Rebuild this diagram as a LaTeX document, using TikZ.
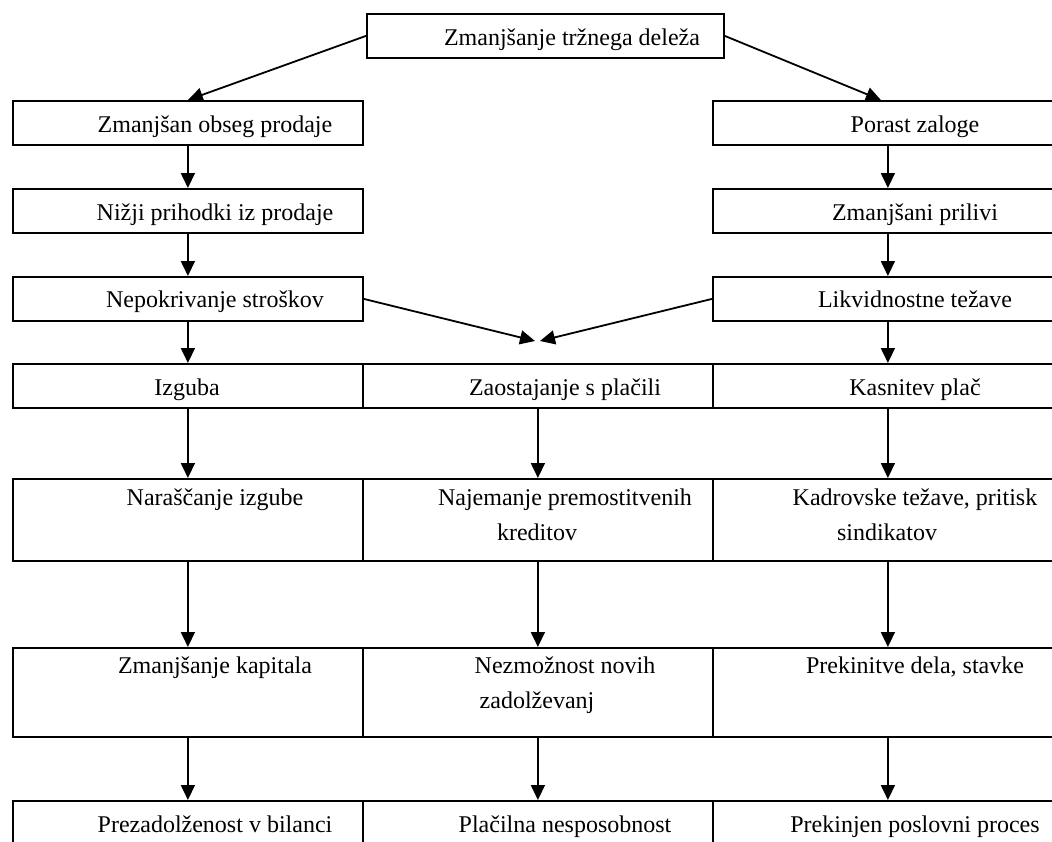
\documentclass[tikz,border=0pt]{standalone}
\usepackage{fontspec}
\setmainfont{Liberation Serif}
\usetikzlibrary{arrows.meta}
\begin{document}
\begin{tikzpicture}[x=1pt,y=-1pt,
  box/.style={draw, line width=1.8pt, rectangle, inner sep=0pt, anchor=north west, minimum width=350pt},
  boxs/.style={box, minimum height=44pt},
  boxt/.style={box},
  txt/.style={anchor=base, inner sep=0pt, align=center, font=\fontsize{24}{35}\selectfont},
  arr/.style={line width=1.8pt, -{Triangle[length=15pt,width=14pt]}}]
\useasboundingbox (0,0) rectangle (1052,841);
\clip (0,0) rectangle (1052,841);
% boxes
\node[box, minimum width=357pt, minimum height=44pt] (top) at (366,13) {};
\node[boxs] (l1) at (12,100) {};
\node[boxs] (r1) at (712,100) {};
\node[boxs] (l2) at (12,188) {};
\node[boxs] (r2) at (712,188) {};
\node[boxs] (l3) at (12,276) {};
\node[boxs] (r3) at (712,276) {};
\node[boxs] (l4) at (12,363) {};
\node[boxs] (m4) at (362,363) {};
\node[boxs] (r4) at (712,363) {};
\node[boxt, minimum height=82pt] (l5) at (12,478) {};
\node[boxt, minimum height=82pt] (m5) at (362,478) {};
\node[boxt, minimum height=82pt] (r5) at (712,478) {};
\node[boxt, minimum height=89pt] (l6) at (12,647) {};
\node[boxt, minimum height=89pt] (m6) at (362,647) {};
\node[boxt, minimum height=89pt] (r6) at (712,647) {};
\node[boxt, minimum height=90pt] (l7) at (12,800) {};
\node[boxt, minimum height=90pt] (m7) at (362,800) {};
\node[boxt, minimum height=90pt] (r7) at (712,800) {};
% texts (multi-line nodes: base anchor = last line)
\node[txt] (ttop) at (572,45) {Zmanjšanje tržnega deleža};
\node[txt] (tl1) at (215,132) {Zmanjšan obseg prodaje};
\node[txt] (tr1) at (915,132) {Porast zaloge};
\node[txt] (tl2) at (215,220) {Nižji prihodki iz prodaje};
\node[txt] (tr2) at (915,220) {Zmanjšani prilivi};
\node[txt] (tl3) at (215,307) {Nepokrivanje stroškov};
\node[txt] (tr3) at (915,307) {Likvidnostne težave};
\node[txt] (tl4) at (187,395) {Izguba};
\node[txt] (tm4) at (565,395) {Zaostajanje s plačili};
\node[txt] (tr4) at (915,395) {Kasnitev plač};
\node[txt] (tl5) at (215,505) {Naraščanje izgube};
\node[txt] (tm5) at (537,540) {\hspace*{56pt}Najemanje premostitvenih\\kreditov};
\node[txt] (tr5) at (887,540) {\hspace*{56pt}Kadrovske težave, pritisk\\sindikatov};
\node[txt] (tl6) at (215,673) {Zmanjšanje kapitala};
\node[txt] (tm6) at (537,708) {\hspace*{56pt}Nezmožnost novih\\zadolževanj};
\node[txt] (tr6) at (915,673) {Prekinitve dela, stavke};
\node[txt] (tl7) at (215,832) {Prezadolženost v bilanci};
\node[txt] (tm7) at (565,832) {Plačilna nesposobnost};
\node[txt] (tr7) at (915,832) {Prekinjen poslovni proces};
% connectors
\coordinate (meetL) at (535,341);
\coordinate (meetR) at (540,341);
\draw[arr] (top.west) -- (l1.north);
\draw[arr] (top.east) -- ([xshift=-7pt]r1.north);
\draw[arr] (l1.south) -- (l2.north);
\draw[arr] (r1.south) -- (r2.north);
\draw[arr] (l2.south) -- (l3.north);
\draw[arr] (r2.south) -- (r3.north);
\draw[arr] (l3.east) -- (meetL);
\draw[arr] (r3.west) -- (meetR);
\draw[arr] (l3.south) -- (l4.north);
\draw[arr] (r3.south) -- (r4.north);
\draw[arr] (l4.south) -- (l5.north);
\draw[arr] (m4.south) -- (m5.north);
\draw[arr] (r4.south) -- (r5.north);
\draw[arr] (l5.south) -- (l6.north);
\draw[arr] (m5.south) -- (m6.north);
\draw[arr] (r5.south) -- (r6.north);
\draw[arr] (l6.south) -- (l7.north);
\draw[arr] (m6.south) -- (m7.north);
\draw[arr] (r6.south) -- (r7.north);
\end{tikzpicture}
\end{document}
